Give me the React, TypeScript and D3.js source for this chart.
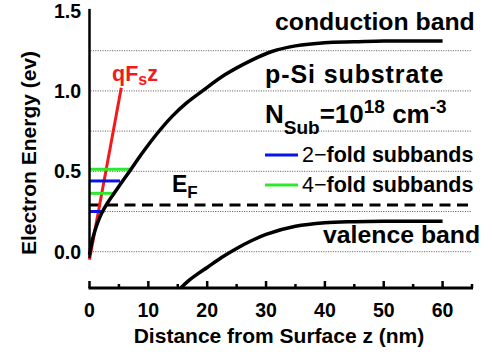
import { useEffect, useRef } from "react";
import * as d3 from "d3";

// conduction band edge
const cbZ = [0, 0.5, 1, 1.5, 2.15, 3, 4.3, 5.45, 7, 9, 11.5, 14, 16.5, 19.2, 23, 27.5, 31, 35, 40, 45, 50, 55, 60];
const cbE = [-0.02, 0.075, 0.14, 0.192, 0.245, 0.3, 0.37, 0.43, 0.51, 0.615, 0.735, 0.84, 0.925, 1.0, 1.1, 1.19, 1.245, 1.28, 1.3, 1.305, 1.31, 1.31, 1.31];

// valence band edge
const vbZ = [15.5, 17, 18.5, 20, 22.5, 25, 27.5, 30, 35, 40, 45, 50, 55, 60];
const vbE = [-0.226, -0.175, -0.135, -0.098, -0.035, 0.02, 0.068, 0.108, 0.158, 0.18, 0.187, 0.19, 0.19, 0.19];

// surface field line qFs z
const fieldZ = [0, 5.4];
const fieldE = [-0.05, 1.02];

// subband levels and where they meet the band edge
const twoFoldE = [0.25, 0.44];
const twoFoldZ = [2.5, 5.2];
const fourFoldE = [0.363, 0.512];
const fourFoldZ = [4.2, 6.9];

const fermiE = 0.29;

const xTicks = [0, 10, 20, 30, 40, 50, 60];
const xMinor = [5, 15, 25, 35, 45, 55, 65];
const yTicks = [0, 0.5, 1.0, 1.5];
const gridE = [0, 0.25, 0.5, 0.75, 1.0, 1.25];

const FONT = "'Liberation Sans', Arial, sans-serif";
const RED = "#f21a1a";
const BLUE = "#0a14e6";
const GREEN = "#2ee82e";

export default function App() {
  const svgRef = useRef<SVGSVGElement | null>(null);

  useEffect(() => {
    const width = 493;
    const height = 354;
    const svg = d3.select(svgRef.current).attr("width", width).attr("height", height);
    svg.selectAll("*").remove();

    const x = d3.scaleLinear().domain([0, 65]).range([89.5, 472]);
    const y = d3.scaleLinear().domain([0, 1.5]).range([251.7, 10.5]);
    const axisY = 288;

    const line = d3
      .line<[number, number]>()
      .x((d) => x(d[0]))
      .y((d) => y(d[1]))
      .curve(d3.curveCatmullRom.alpha(0.5));

    // dotted grid
    svg
      .append("g")
      .selectAll("line")
      .data(gridE)
      .enter()
      .append("line")
      .attr("x1", x(0) + 1)
      .attr("x2", x(65))
      .attr("y1", (d) => y(d))
      .attr("y2", (d) => y(d))
      .attr("stroke", "#555")
      .attr("stroke-width", 1)
      .attr("stroke-dasharray", "1,1.4");

    // Fermi level
    svg
      .append("line")
      .attr("x1", x(0))
      .attr("x2", x(65))
      .attr("y1", y(fermiE))
      .attr("y2", y(fermiE))
      .attr("stroke", "#000")
      .attr("stroke-width", 3)
      .attr("stroke-dasharray", "11,6.5");

    // qFs z
    svg
      .append("path")
      .attr("d", d3.line<number>().x((d, i) => x(fieldZ[i])).y((d) => y(d))(fieldE))
      .attr("fill", "none")
      .attr("stroke", RED)
      .attr("stroke-width", 3);

    // subbands
    const bands = [
      ...fourFoldE.map((e, i) => ({ e, z: fourFoldZ[i], c: GREEN })),
      ...twoFoldE.map((e, i) => ({ e, z: twoFoldZ[i], c: BLUE })),
    ];
    svg
      .append("g")
      .selectAll("line")
      .data(bands)
      .enter()
      .append("line")
      .attr("x1", x(0))
      .attr("x2", (d) => x(d.z))
      .attr("y1", (d) => y(d.e))
      .attr("y2", (d) => y(d.e))
      .attr("stroke", (d) => d.c)
      .attr("stroke-width", 3);

    // band edges
    svg
      .append("path")
      .attr("d", line(cbZ.map((z, i) => [z, cbE[i]] as [number, number])))
      .attr("fill", "none")
      .attr("stroke", "#000")
      .attr("stroke-width", 3.5);
    svg
      .append("path")
      .attr("d", line(vbZ.map((z, i) => [z, vbE[i]] as [number, number])))
      .attr("fill", "none")
      .attr("stroke", "#000")
      .attr("stroke-width", 3.5);

    // y axis line
    svg
      .append("line")
      .attr("x1", x(0))
      .attr("x2", x(0))
      .attr("y1", y(1.51))
      .attr("y2", y(-0.04))
      .attr("stroke", "#000")
      .attr("stroke-width", 2.5);

    svg
      .append("g")
      .selectAll("text")
      .data(yTicks)
      .enter()
      .append("text")
      .attr("x", 81)
      .attr("y", (d) => y(d))
      .attr("dy", "0.36em")
      .attr("text-anchor", "end")
      .attr("font-family", FONT)
      .attr("font-weight", "bold")
      .attr("font-size", 19.5)
      .text((d) => d.toFixed(1));

    // x axis
    svg
      .append("line")
      .attr("x1", x(0) - 1)
      .attr("x2", x(65) + 1)
      .attr("y1", axisY)
      .attr("y2", axisY)
      .attr("stroke", "#000")
      .attr("stroke-width", 2.8);
    svg
      .append("g")
      .selectAll("line")
      .data(xTicks)
      .enter()
      .append("line")
      .attr("x1", (d) => x(d))
      .attr("x2", (d) => x(d))
      .attr("y1", axisY)
      .attr("y2", axisY - 7)
      .attr("stroke", "#000")
      .attr("stroke-width", 2.5);
    svg
      .append("g")
      .selectAll("line")
      .data(xMinor)
      .enter()
      .append("line")
      .attr("x1", (d) => x(d))
      .attr("x2", (d) => x(d))
      .attr("y1", axisY)
      .attr("y2", axisY - 4)
      .attr("stroke", "#000")
      .attr("stroke-width", 2.5);
    svg
      .append("g")
      .selectAll("text")
      .data(xTicks)
      .enter()
      .append("text")
      .attr("x", (d) => x(d))
      .attr("y", 317)
      .attr("text-anchor", "middle")
      .attr("font-family", FONT)
      .attr("font-weight", "bold")
      .attr("font-size", 19.5)
      .text((d) => d);

    // axis titles
    svg
      .append("text")
      .attr("x", 279)
      .attr("y", 343)
      .attr("text-anchor", "middle")
      .attr("font-family", FONT)
      .attr("font-weight", "bold")
      .attr("font-size", 21)
      .text("Distance from Surface z (nm)");
    svg
      .append("text")
      .attr("transform", "translate(36,153) rotate(-90)")
      .attr("text-anchor", "middle")
      .attr("font-family", FONT)
      .attr("font-weight", "bold")
      .attr("font-size", 21)
      .text("Electron Energy (ev)");

    const label = (tx: number, ty: number, size: number, color = "#000") =>
      svg
        .append("text")
        .attr("x", tx)
        .attr("y", ty)
        .attr("font-family", FONT)
        .attr("font-weight", "bold")
        .attr("font-size", size)
        .attr("fill", color);

    label(275, 30, 24.8).text("conduction band");
    label(265, 83, 25).attr("letter-spacing", 0.9).text("p-Si substrate");
    label(323, 243, 24.8).text("valence band");

    const nsub = label(265, 123, 26);
    nsub.append("tspan").text("N");
    nsub.append("tspan").attr("font-size", 19).attr("dy", 11).text("Sub");
    nsub.append("tspan").attr("dy", -11).text("=10");
    nsub.append("tspan").attr("font-size", 19).attr("dy", -10).text("18");
    nsub.append("tspan").attr("dy", 10).text(" cm");
    nsub.append("tspan").attr("font-size", 19).attr("dy", -10).text("-3");

    const ef = label(172, 192, 23);
    ef.append("tspan").text("E");
    ef.append("tspan").attr("font-size", 17).attr("dy", 6).text("F");

    const q = label(112, 81, 21.5, RED);
    q.append("tspan").text("qF");
    q.append("tspan").attr("font-size", 16).attr("dy", 4).text("s");
    q.append("tspan").attr("dy", -4).text("z");

    // legend
    const legend = [
      { c: BLUE, n: "2", ly: 155 },
      { c: GREEN, n: "4", ly: 185 },
    ];
    legend.forEach((d) => {
      svg
        .append("line")
        .attr("x1", 265)
        .attr("x2", 298)
        .attr("y1", d.ly)
        .attr("y2", d.ly)
        .attr("stroke", d.c)
        .attr("stroke-width", 3);
      const t = label(302, d.ly + 6.5, 21.5);
      t.append("tspan").attr("font-weight", "normal").text(d.n + "\u2212");
      t.append("tspan").text("fold subbands");
    });
  }, []);

  return <svg ref={svgRef} style={{ position: "absolute", left: 0, top: 0, background: "#fff" }}></svg>;
}
